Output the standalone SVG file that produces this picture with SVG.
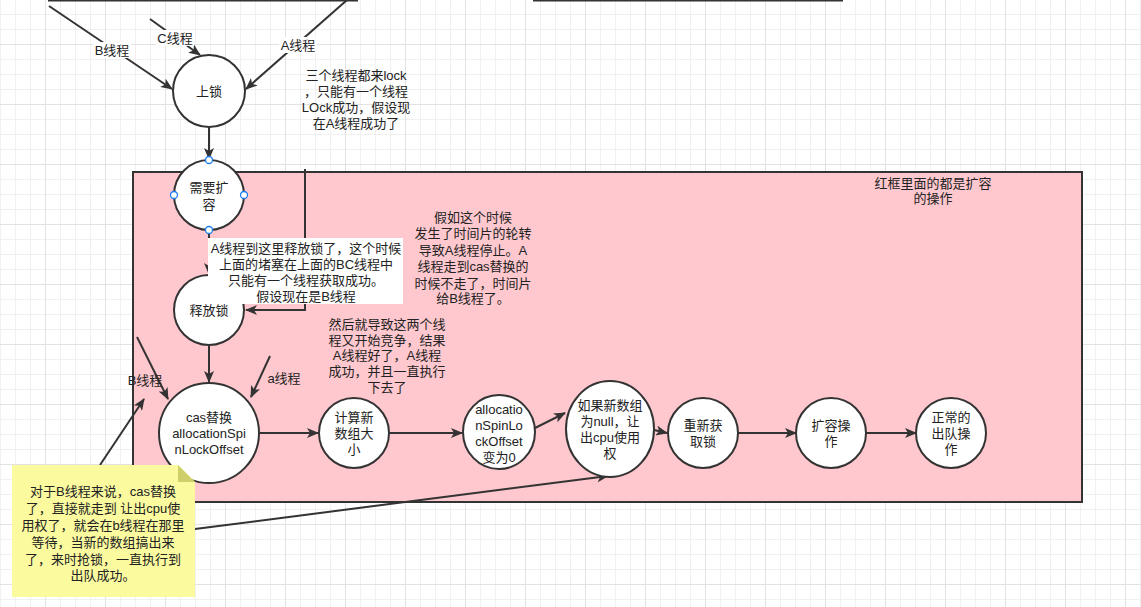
<svg xmlns="http://www.w3.org/2000/svg" width="1141" height="607" viewBox="0 0 1141 607">
<style>
text{font-family:"Liberation Sans","Noto Sans CJK SC",sans-serif;font-size:13px;fill:#222;text-anchor:middle;dominant-baseline:central}
.n{fill:#fff;stroke:#333;stroke-width:2}
.e{fill:none;stroke:#333;stroke-width:2}
.a{marker-end:url(#arr)}
.lb{fill:#fff}
.cp{fill:#fff;stroke:#1a7cf0;stroke-width:1.3}
</style>
<defs>
<pattern id="grid" width="60" height="60" patternUnits="userSpaceOnUse" x="45" y="44">
<path d="M15.5 0V60M30.5 0V60M45.5 0V60M0 15.5H60M0 30.5H60M0 45.5H60" stroke="#f0f0f0" stroke-width="1"/>
<path d="M0.5 0V60M0 0.5H60" stroke="#e2e2e2" stroke-width="1"/>
</pattern>
<marker id="arr" viewBox="0 0 12 10" refX="11" refY="5" markerWidth="12" markerHeight="10" markerUnits="userSpaceOnUse" orient="auto">
<path d="M0,0 L12,5 L0,10 L3,5 z" fill="#333"/>
</marker>
</defs>
<rect width="1141" height="607" fill="#fff"/>
<rect width="1141" height="607" fill="url(#grid)"/>

<g id="expand-frame">
<rect x="133" y="172" width="949" height="330" fill="#ffc8ce" stroke="#333" stroke-width="2"/>
<text x="933" y="183">红框里面的都是扩容</text>
<text x="933" y="198">的操作</text>
</g>

<g id="connectors">
<path class="e" d="M48 0.5H358"/>
<path class="e" d="M533 0.5H843"/>
<path class="e a" d="M49 6L172 89"/>
<path class="e a" d="M150 19L200 55"/>
<path class="e a" d="M347 0L246 89"/>
<path class="e a" d="M209 127V159"/>
<path class="e a" d="M209 231V274"/>
<path class="e a" d="M305 169V310H246"/>
<path class="e a" d="M209 345V382"/>
<path class="e a" d="M270 356L251 397"/>
<path class="e a" d="M137 337L168 399"/>
<path class="e a" d="M100 465L144 399"/>
<path class="e a" d="M260 433H318"/>
<path class="e a" d="M389 433H462"/>
<path class="e a" d="M535 428L565 413"/>
<path class="e a" d="M654 430L667 433"/>
<path class="e a" d="M738 433H796"/>
<path class="e a" d="M866 433H916"/>
<path class="e a" d="M195 529L608 476"/>
<rect class="lb" x="93" y="42" width="38" height="16"/>
<text x="112" y="50">B线程</text>
<rect class="lb" x="156" y="30" width="38" height="16"/>
<text x="175" y="38">C线程</text>
<rect class="lb" x="279" y="37" width="38" height="16"/>
<text x="298" y="45">A线程</text>
<text x="145" y="380">B线程</text>
<text x="284" y="378">a线程</text>
</g>

<g id="lock">
<circle class="n" cx="209" cy="91" r="36"/>
<text x="209" y="91">上锁</text>
</g>

<g id="need-expand">
<circle class="n" cx="209" cy="195" r="35"/>
<text x="209" y="187">需要扩</text>
<text x="209" y="204">容</text>
<circle class="cp" cx="209" cy="160" r="3.5"/>
<circle class="cp" cx="174" cy="195" r="3.5"/>
<circle class="cp" cx="244" cy="195" r="3.5"/>
<circle class="cp" cx="209" cy="230" r="3.5"/>
</g>

<g id="release">
<circle class="n" cx="209" cy="310" r="35"/>
<text x="209" y="310">释放锁</text>
</g>

<g id="cas">
<circle class="n" cx="209" cy="433" r="50"/>
<text x="209" y="417">cas替换</text>
<text x="209" y="433">allocationSpi</text>
<text x="209" y="449">nLockOffset</text>
</g>

<g id="calc">
<circle class="n" cx="354" cy="433" r="35"/>
<text x="354" y="417">计算新</text>
<text x="354" y="433">数组大</text>
<text x="354" y="449">小</text>
</g>

<g id="offset-zero">
<ellipse class="n" cx="499" cy="432" rx="36" ry="37"/>
<text x="499" y="409">allocatio</text>
<text x="499" y="425">nSpinLo</text>
<text x="499" y="441">ckOffset</text>
<text x="499" y="457">变为0</text>
</g>

<g id="yield">
<ellipse class="n" cx="610" cy="429" rx="44" ry="48"/>
<text x="610" y="405">如果新数组</text>
<text x="610" y="421">为null，让</text>
<text x="610" y="437">出cpu使用</text>
<text x="610" y="453">权</text>
</g>

<g id="relock">
<circle class="n" cx="703" cy="433" r="35"/>
<text x="703" y="425">重新获</text>
<text x="703" y="441">取锁</text>
</g>

<g id="expand-op">
<circle class="n" cx="831" cy="433" r="35"/>
<text x="831" y="425">扩容操</text>
<text x="831" y="441">作</text>
</g>

<g id="dequeue">
<circle class="n" cx="951" cy="433" r="35"/>
<text x="951" y="417">正常的</text>
<text x="951" y="433">出队操</text>
<text x="951" y="449">作</text>
</g>

<g id="note-three">
<text x="356" y="75">三个线程都来lock</text>
<text x="356" y="91">，只能有一个线程</text>
<text x="356" y="107">LOck成功，假设现</text>
<text x="356" y="123">在A线程成功了</text>
</g>

<g id="note-release">
<rect x="208" y="238" width="195" height="66" fill="#fff"/>
<text x="306" y="248">A线程到这里释放锁了，这个时候</text>
<text x="306" y="264">上面的堵塞在上面的BC线程中</text>
<text x="306" y="280">只能有一个线程获取成功。</text>
<text x="306" y="296">假设现在是B线程</text>
</g>

<g id="note-timeslice">
<text x="473" y="217">假如这个时候</text>
<text x="473" y="233">发生了时间片的轮转</text>
<text x="473" y="250">导致A线程停止。A</text>
<text x="473" y="266">线程走到cas替换的</text>
<text x="473" y="283">时候不走了，时间片</text>
<text x="473" y="298">给B线程了。</text>
</g>

<g id="note-compete">
<text x="387" y="324">然后就导致这两个线</text>
<text x="387" y="340">程又开始竞争，结果</text>
<text x="387" y="355">A线程好了，A线程</text>
<text x="387" y="371">成功，并且一直执行</text>
<text x="387" y="387">下去了</text>
</g>

<g id="sticky">
<path d="M12 465H178L195 482V597H12z" fill="#fbfa9f"/>
<path d="M178 465L195 482H178z" fill="#cfcf6a"/>
<text x="103" y="491">对于B线程来说，cas替换</text>
<text x="103" y="508">了，直接就走到 让出cpu使</text>
<text x="103" y="525">用权了，就会在b线程在那里</text>
<text x="103" y="542">等待，当新的数组搞出来</text>
<text x="103" y="559">了，来时抢锁，一直执行到</text>
<text x="103" y="575">出队成功。</text>
</g>
</svg>
